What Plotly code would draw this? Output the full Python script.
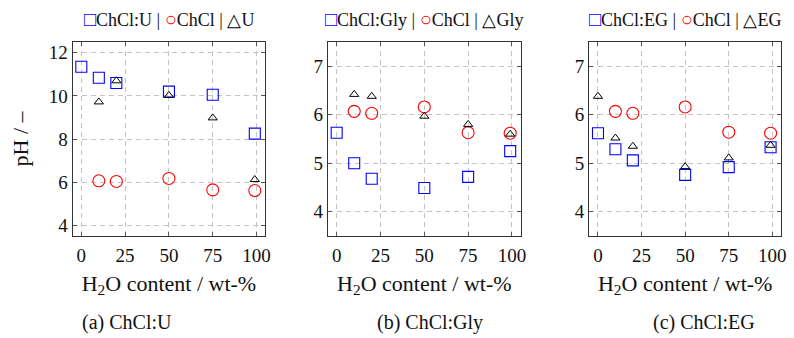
import plotly.graph_objects as go

# ---------------- data ----------------
water = [0, 10, 20, 50, 75, 99]
water_nz = [10, 20, 50, 75, 99]

# (a) ChCl:U
u_des = [11.35, 10.84, 10.60, 10.20, 10.05, 8.25]
u_chcl = [6.06, 6.03, 6.17, 5.64, 5.61]
u_hbd = [9.72, 10.70, 10.02, 8.98, 6.12]

# (b) ChCl:Gly
gly_des = [5.63, 5.00, 4.68, 4.49, 4.72, 5.25]
gly_chcl = [6.07, 6.03, 6.16, 5.63, 5.62]
gly_hbd = [6.42, 6.38, 5.97, 5.80, 5.60]

# (c) ChCl:EG
eg_des = [5.62, 5.29, 5.06, 4.76, 4.92, 5.33]
eg_chcl = [6.07, 6.03, 6.16, 5.64, 5.62]
eg_hbd = [6.38, 5.52, 5.35, 4.93, 5.11, 5.37]

x_ticks = [0, 25, 50, 75, 100]
y_ticks_a = [4, 6, 8, 10, 12]
y_ticks_bc = [4, 5, 6, 7]

des_names = ["ChCl:U", "ChCl:Gly", "ChCl:EG"]
hbd_names = ["U", "Gly", "EG"]
captions = ["(a) ChCl:U", "(b) ChCl:Gly", "(c) ChCl:EG"]

# ---------------- layout geometry ----------------
W, H = 794, 338
FONT = "Liberation Serif"
x_doms = [(73 / W, 267 / W), (330 / W, 524 / W), (593 / W, 786 / W)]
y_dom = (1 - 236 / H, 1 - 42 / H)
caption_x = [128 / W, 433 / W, 708 / W]

BLUE = "#0000ff"
RED = "#ff0000"
BLACK = "#000000"

fig = go.Figure()

panels = [
    (water, u_des, water_nz, u_chcl, water_nz, u_hbd),
    (water, gly_des, water_nz, gly_chcl, water_nz, gly_hbd),
    (water, eg_des, water_nz, eg_chcl, water, eg_hbd),
]

for i, (xd, yd, xc, yc, xh, yh) in enumerate(panels):
    xa = "x" if i == 0 else f"x{i+1}"
    ya = "y" if i == 0 else f"y{i+1}"
    fig.add_trace(go.Scatter(
        x=xd, y=yd, mode="markers", name=des_names[i], xaxis=xa, yaxis=ya,
        marker=dict(symbol="square-open", size=11, color=BLUE, line=dict(width=1.1, color=BLUE)),
        showlegend=False))
    fig.add_trace(go.Scatter(
        x=xc, y=yc, mode="markers", name="ChCl", xaxis=xa, yaxis=ya,
        marker=dict(symbol="circle-open", size=12, color=RED, line=dict(width=1.1, color=RED)),
        showlegend=False))
    fig.add_trace(go.Scatter(
        x=xh, y=yh, mode="markers", name=hbd_names[i], xaxis=xa, yaxis=ya,
        marker=dict(symbol="triangle-up-open", size=8, color=BLACK, line=dict(width=1.0, color=BLACK)),
        showlegend=False))

axis_common = dict(
    showline=True, linecolor="#333333", linewidth=1.2, mirror="ticks",
    ticks="inside", ticklen=4, tickcolor="#555555", tickwidth=1,
    showgrid=True, gridcolor="#c4c4c4", gridwidth=1, griddash="5px,4px",
    zeroline=False, tickfont=dict(family=FONT, size=19, color="#111111"),
)

layout = dict(
    width=W, height=H, margin=dict(l=0, r=0, t=0, b=0),
    paper_bgcolor="white", plot_bgcolor="white",
    font=dict(family=FONT, color="#111111"),
    showlegend=False,
)

for i in range(3):
    xk = "xaxis" if i == 0 else f"xaxis{i+1}"
    yk = "yaxis" if i == 0 else f"yaxis{i+1}"
    ya = "y" if i == 0 else f"y{i+1}"
    xa = "x" if i == 0 else f"x{i+1}"
    layout[xk] = dict(
        axis_common, domain=list(x_doms[i]), anchor=ya, range=[-5, 105],
        tickmode="array", tickvals=x_ticks, ticklabelstandoff=2,
        title=dict(text="H<sub>2</sub>O content / wt-%", font=dict(family=FONT, size=22), standoff=10),
    )
    ydict = dict(axis_common, domain=list(y_dom), anchor=xa)
    if i == 0:
        ydict.update(range=[3.5, 12.5], tickmode="array", tickvals=y_ticks_a,
                     title=dict(text="pH / –", font=dict(family=FONT, size=22), standoff=13))
    else:
        ydict.update(range=[3.5, 7.5], tickmode="array", tickvals=y_ticks_bc)
    layout[yk] = ydict

fig.update_layout(**layout)

# legends above each panel (as text with coloured marker glyphs)
for i in range(3):
    txt = (f'<span style="color:{BLUE};font-size:20px">□</span>{des_names[i]} | '
           f'<span style="color:{RED};font-size:20px">○</span>ChCl | '
           f'<span style="color:{BLACK}">△</span>{hbd_names[i]}')
    fig.add_annotation(
        x=(x_doms[i][0] + x_doms[i][1]) / 2, y=1 - 19 / H, xref="paper", yref="paper",
        text=txt, showarrow=False, xanchor="center", yanchor="middle",
        font=dict(family=FONT, size=18, color="#111111"))
    fig.add_annotation(
        x=caption_x[i], y=1 - 322 / H, xref="paper", yref="paper",
        text=captions[i], showarrow=False, xanchor="center", yanchor="middle",
        font=dict(family=FONT, size=20, color="#111111"))

fig.write_html("out.html")
